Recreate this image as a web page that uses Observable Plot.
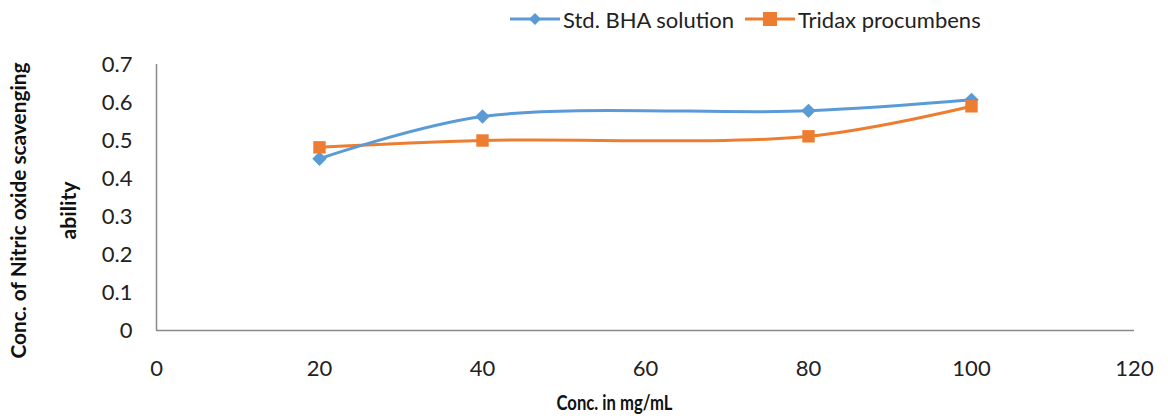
<!DOCTYPE html>
<html>
<head>
<meta charset="utf-8">
<script src="https://cdn.jsdelivr.net/npm/d3@7"></script>
<script src="https://cdn.jsdelivr.net/npm/@observablehq/plot@0.6"></script>
<style>
  html, body { margin: 0; padding: 0; background: #fff; }
  body { width: 1168px; height: 420px; overflow: hidden; font-family: Lato, "Open Sans", sans-serif; }
  #legend { height: 40px; position: relative; }
  .item { position: absolute; top: 4px; display: flex; align-items: center; font-size: 22px; color: #222; }
  .item svg { margin-right: 3px; }
</style>
</head>
<body>
<div id="legend"></div>
<div id="chart"></div>
<script>
const concentrations = [20, 40, 80, 100];
const bhaValues = [0.452, 0.563, 0.578, 0.607];
const tridaxValues = [0.482, 0.500, 0.511, 0.590];
const seriesNames = ["Std. BHA solution", "Tridax procumbens"];
const seriesColors = ["#5B9BD5", "#ED7D31"];
const seriesSymbols = ["diamond2", "square"];
const xTicks = [0, 20, 40, 60, 80, 100, 120];
const yTicks = [0, 0.1, 0.2, 0.3, 0.4, 0.5, 0.6, 0.7];
const xTitle = "Conc. in mg/mL";
const yTitleLines = ["Conc. of Nitric oxide scavenging", "ability"];

const rows = [];
concentrations.forEach((c, i) => {
  rows.push({x: c, y: bhaValues[i], s: seriesNames[0]});
  rows.push({x: c, y: tridaxValues[i], s: seriesNames[1]});
});
const bha = rows.filter(d => d.s === seriesNames[0]);
const tri = rows.filter(d => d.s === seriesNames[1]);

const font = 'Lato, "Open Sans", sans-serif';

const plot = Plot.plot({
  width: 1168,
  height: 380,
  marginTop: 24,
  marginBottom: 90,
  marginLeft: 156,
  marginRight: 34,
  style: {fontFamily: font, fontSize: "22px", color: "#222", background: "#fff"},
  x: {domain: [0, 120], ticks: xTicks},
  y: {domain: [0, 0.7], ticks: yTicks},
  marks: [
    Plot.axisX({ticks: xTicks, tickSize: 0, tickPadding: 30, label: null, fontSize: 22, tickFormat: d => String(d)}),
    Plot.axisY({ticks: yTicks, tickSize: 0, tickPadding: 24, label: null, fontSize: 22, tickFormat: d => String(d)}),
    Plot.ruleY([0], {stroke: "#898989", strokeWidth: 1.5}),
    Plot.ruleX([0], {stroke: "#898989", strokeWidth: 1.5}),
    Plot.line(tri, {x: "x", y: "y", stroke: seriesColors[1], strokeWidth: 3, curve: "catmull-rom"}),
    Plot.line(bha, {x: "x", y: "y", stroke: seriesColors[0], strokeWidth: 3, curve: "catmull-rom"}),
    Plot.dot(bha, {x: "x", y: "y", symbol: seriesSymbols[0], fill: seriesColors[0], r: 6.5}),
    Plot.dot(tri, {x: "x", y: "y", symbol: seriesSymbols[1], fill: seriesColors[1], r: 7}),
    Plot.text([xTitle], {frameAnchor: "bottom", lineAnchor: "middle", textAnchor: "middle", dy: 73, dx: -31, fontWeight: "bold", fontSize: 21, fill: "#111", className: "xtitle"}),
    Plot.text([yTitleLines[0]], {frameAnchor: "left", lineAnchor: "middle", textAnchor: "middle", dx: -137, dy: 13, rotate: -90, fontWeight: "bold", fontSize: 20, fill: "#111", className: "ytitle1"}),
    Plot.text([yTitleLines[1]], {frameAnchor: "left", lineAnchor: "middle", textAnchor: "middle", dx: -87, dy: 13, rotate: -90, fontWeight: "bold", fontSize: 20, fill: "#111", className: "ytitle2"})
  ]
});
document.getElementById("chart").appendChild(plot);

// condense title text widths to match the narrow bold face of the original
const fit = (cls, len) => {
  const t = plot.querySelector("." + cls + " text");
  if (t) { t.setAttribute("textLength", len); t.setAttribute("lengthAdjust", "spacingAndGlyphs"); }
};
fit("xtitle", 116);
fit("ytitle1", 296);
fit("ytitle2", 58);

// legend
const legend = document.getElementById("legend");
const lefts = [510, 745];
seriesNames.forEach((name, i) => {
  const item = document.createElement("div");
  item.className = "item";
  item.style.left = lefts[i] + "px";
  const sym = i === 0
    ? '<path d="M25 9 L31 15 L25 21 L19 15 Z" fill="' + seriesColors[0] + '"/>'
    : '<rect x="18" y="8" width="14" height="14" fill="' + seriesColors[1] + '"/>';
  item.innerHTML = '<svg width="50" height="30"><line x1="0" y1="15" x2="50" y2="15" stroke="' + seriesColors[i] + '" stroke-width="3"/>' + sym + '</svg><span>' + name + '</span>';
  legend.appendChild(item);
});
</script>
</body>
</html>
